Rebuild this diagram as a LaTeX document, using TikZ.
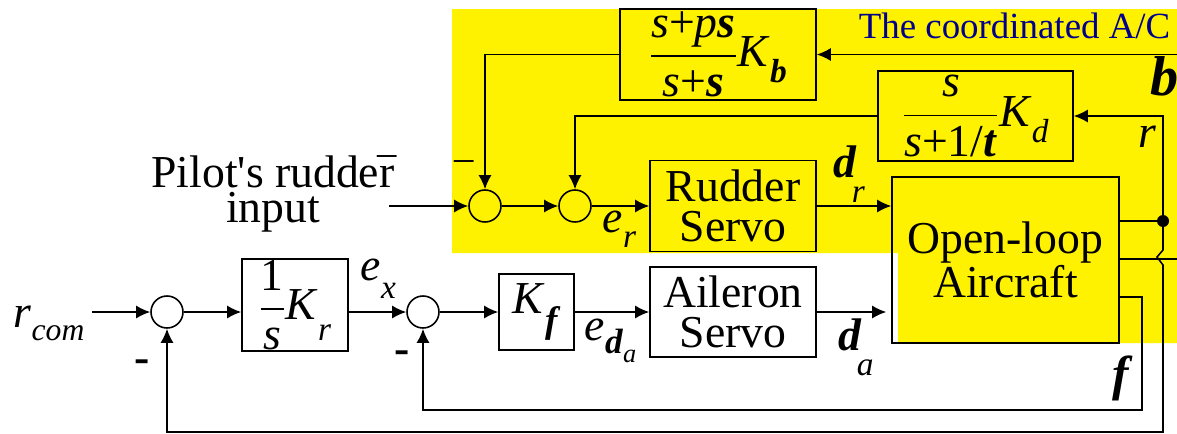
\documentclass[tikz,border=0pt]{standalone}
\usepackage{fontspec}
\setmainfont{Liberation Serif}
\usetikzlibrary{arrows.meta}
\definecolor{acblue}{RGB}{0,0,140}
\newcommand{\bigsz}{\rmfamily\fontsize{26}{23}\selectfont}
\newcommand{\bsym}[1]{\textbf{\textit{#1}}}
\newcommand{\subsc}[4][0.35em]{#2\raisebox{-#1}{\fontsize{#3}{#3}\selectfont #4}}
\newcommand{\fr}[2]{$\displaystyle{\mbox{#1}\above0.9pt\mbox{#2}}$}
\begin{document}
\begin{tikzpicture}[x=0.02cm,y=-0.02cm,line width=0.9pt,
  >={Latex[length=0.28cm,width=0.26cm]},font=\bigsz,
  blk/.style={draw,inner sep=0pt,align=center},
  sumj/.style={draw,circle,inner sep=0pt,minimum size=0.64cm},
  lbl/.style={anchor=base west,inner sep=0pt}]
 \useasboundingbox (0,0) rectangle (1177,433);
 % coordinated A/C part
 \fill[yellow] (452,9) -- (1177,9) -- (1177,343) -- (898,343)
   -- (898,253) -- (452,253) -- cycle;
 \node[lbl,text=acblue,font=\fontsize{21}{21}\selectfont] (title) at (858,38) {The coordinated A/C};
 % blocks
 \node[blk,minimum width=3.92cm,minimum height=1.82cm] (kb) at (718,54.5)
   {\fr{\textit{s}+\textit{p}\bsym{s}}{\textit{s}+\bsym{s}}\subsc{\textit{K}}{19}{\bsym{b}}};
 \node[blk,minimum width=3.9cm,minimum height=1.8cm] (kd) at (975.5,116)
   {\fr{\textit{s}}{\textit{s}+1/\bsym{t}}\subsc{\textit{K}}{19}{\textit{d}}};
 \node[blk,minimum width=3.32cm,minimum height=1.82cm] (rudder) at (733,206) {Rudder\\Servo};
 \node[blk,minimum width=3.32cm,minimum height=1.8cm] (aileron) at (733,312) {Aileron\\Servo};
 \node[blk,minimum width=4.54cm,minimum height=3.32cm] (plant) at (1005.5,260) {Open-loop\\Aircraft};
 \node[blk,minimum width=1.5cm,minimum height=1.52cm] (kf) at (536.5,312)
   {\subsc[0.4em]{\textit{K}}{21}{\bsym{f}}};
 \node[blk,minimum width=2.12cm,minimum height=1.84cm] (kr) at (295,305)
   {\fr{1}{\textit{s}}\subsc[0.45em]{\textit{K}}{19}{\textit{r}}};
 % summing junctions
 \node[sumj] (sumA) at (485,206) {};
 \node[sumj] (sumB) at (575,206) {};
 \node[sumj] (sumC) at (167,312) {};
 \node[sumj] (sumD) at (423,312) {};
 % free ends
 \coordinate (pin) at (389,206);
 \coordinate (bin) at (1177,54.5);
 \coordinate (bout) at (1177,259);
 \coordinate (rin) at (92,312);
 \coordinate (rdot) at (1163,221);
 \coordinate (rbot) at (1163,432);
 \coordinate (fcor) at (1142,297);
 \coordinate (fbot) at (1142,410);
 % rudder loop
 \draw[->] (pin) -- (sumA);
 \draw[->] (sumA) -- (sumB);
 \draw[->] (sumB) -- (rudder);
 \draw[->] (rudder) -- (rudder -| plant.west);
 \draw[->] (bin) -- (kb);
 \draw[->] (kb) -| (sumA);
 \draw[->] (kd) -| (sumB);
 \draw (plant.east |- rdot) -- (rdot);
 \fill (rdot) circle[radius=0.12cm];
 \draw[->] (rdot) |- (kd);
 \draw (plant.east |- bout) -- (bout);
 % aileron loop
 \draw[->] (rin) -- (sumC);
 \draw[->] (sumC) -- (sumC -| kr.west);
 \draw[->] (kr.east |- sumD) -- (sumD);
 \draw[->] (sumD) -- (kf);
 \draw[->] (kf) -- (aileron);
 \draw[->,shorten >=0.1cm] (aileron) -- (aileron -| plant.west);
 \draw[->] (plant.east |- fcor) -- (fcor) -- (fbot) -| (sumD);
 \draw[->] (rdot) -- ++(0,29) -- ++(-6,7) -- ++(6,8) -- (rbot) -| (sumC);
 % labels
 \node[lbl] (ler) at (602,232) {\subsc{\textit{e}}{19}{\textit{r}}};
 \node[lbl] (ldr) at (833,177) {\subsc[0.55em]{\bsym{d}}{19}{\kern-3pt\textit{r}}};
 \node[lbl] (lda) at (838,350) {\subsc[0.55em]{\bsym{d}}{19}{\kern-3pt\textit{a}}};
 \node[lbl] (leda) at (584,340)
   {\textit{e}\raisebox{-0.3em}{\fontsize{20}{20}\selectfont\bsym{d}\raisebox{-0.25em}{\fontsize{15}{15}\selectfont\textit{a}}}};
 \node[lbl] (lex) at (360,280) {\subsc[0.4em]{\textit{e}}{19}{\textit{x}}};
 \node[lbl] (lrcom) at (13,327) {\subsc[0.3em]{\textit{r}}{18}{\textit{com}}};
 \node[lbl,font=\fontsize{32}{32}\selectfont] (lbeta) at (1150,95) {\bsym{b}};
 \node[lbl] (lr) at (1138,147) {\textit{r}};
 \node[lbl,font=\fontsize{28}{28}\selectfont] (lphi) at (1112,390) {\bsym{f}};
 \node[font=\fontsize{26}{26}\selectfont] (lmC) at (142,366) {\textbf{-}};
 \node[font=\fontsize{26}{26}\selectfont] (lmD) at (402,357) {\textbf{-}};
 \node[font=\fontsize{22}{22}\selectfont] (lmA) at (464,166) {\textendash};
 \node[font=\fontsize{22}{22}\selectfont] (lmP) at (387,161) {\textendash};
 \node[align=center,anchor=north,inner sep=0pt,font=\fontsize{26}{20}\selectfont] (pilot) at (273,155)
   {Pilot\textquotesingle s rudder\\input};
\end{tikzpicture}
\end{document}
